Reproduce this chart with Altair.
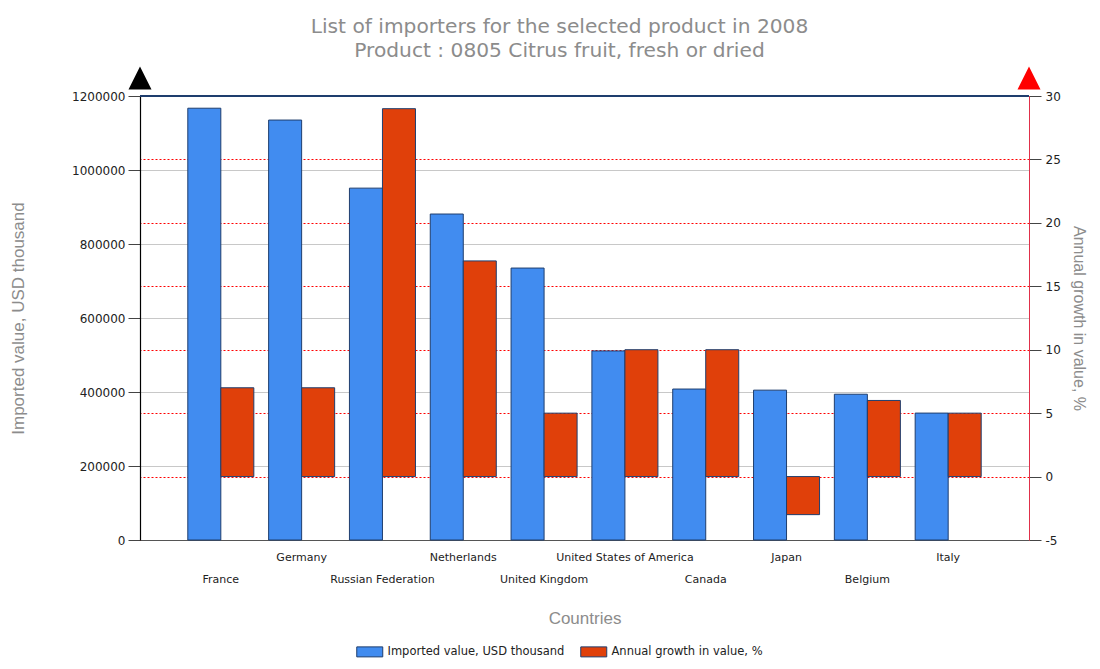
import altair as alt
import pandas as pd

countries = ["France", "Germany", "Russian Federation", "Netherlands", "United Kingdom",
             "United States of America", "Canada", "Japan", "Belgium", "Italy"]
imported = [1167000, 1135000, 951000, 881000, 735000, 511000, 408000, 405000, 394000, 343000]
growth = [7, 7, 29, 17, 5, 10, 10, -3, 6, 5]

series_names = ["Imported value, USD thousand", "Annual growth in value, %"]
series_colors = ["#418CF0", "#E0400A"]

left_ticks = [0, 200000, 400000, 600000, 800000, 1000000, 1200000]
right_ticks = [-5, 0, 5, 10, 15, 20, 25, 30]

df = pd.DataFrame({"country": countries, "imported": imported, "growth": growth})

second_row = countries[0::2]
label_expr = "indexof(" + str(second_row).replace('"', "'") + ", datum.value) >= 0 ? ['', datum.value] : datum.value"

FONT = "Liberation Sans"
LFONT = "DejaVu Sans"
TITLE_GRAY = "#8C8C8C"
STROKE = "#1F3E6E"

x_enc = alt.X(
    "country:N", sort=countries,
    scale=alt.Scale(paddingInner=0.183, paddingOuter=0.5915),
    axis=alt.Axis(title="Countries", labelExpr=label_expr, labelAngle=0, labelOverlap=False,
                  labelBound=False, ticks=False, labelPadding=11, labelLineHeight=22,
                  labelBaseline="top", labelFont=LFONT, labelFontSize=11, labelColor="#222222",
                  domainColor="#555555", domainWidth=1, titleFont=FONT, titleFontSize=17,
                  titleFontWeight="normal", titleColor=TITLE_GRAY, titlePadding=26, grid=False),
)
xoff_scale = alt.Scale(domain=series_names, paddingInner=0, paddingOuter=0)
color_enc = alt.Color(
    "series:N",
    scale=alt.Scale(domain=series_names, range=series_colors),
    legend=alt.Legend(title=None, orient="none", direction="horizontal", legendX=224, legendY=550,
                      symbolType="M-2.6,-1H2.6V1H-2.6Z", symbolSize=100,
                      symbolStrokeColor=STROKE, symbolStrokeWidth=1, symbolOpacity=1,
                      labelFont=LFONT, labelFontSize=11.5, labelColor="#222222", labelOffset=12,
                      labelLimit=400, columnPadding=13, padding=0),
)

base = alt.Chart(df)

blue = base.transform_calculate(series=f"'{series_names[0]}'").mark_bar(
    stroke=STROKE, strokeWidth=1, opacity=1
).encode(
    x=x_enc,
    xOffset=alt.XOffset("series:N", scale=xoff_scale),
    y=alt.Y("imported:Q", scale=alt.Scale(domain=[0, 1200000], nice=False),
            axis=alt.Axis(title="Imported value, USD thousand", orient="left", values=left_ticks,
                          format="d", tickSize=12, tickColor="#444444", labelPadding=3,
                          labelFont=LFONT, labelFontSize=12, labelColor="#222222",
                          domainColor="#000000", domainWidth=1.2,
                          grid=True, gridColor="#C8C8C8", gridWidth=1.2,
                          titleFont=FONT, titleFontSize=17, titleFontWeight="normal",
                          titleColor=TITLE_GRAY, titlePadding=44)),
    color=color_enc,
)

red = base.transform_calculate(series=f"'{series_names[1]}'").mark_bar(
    stroke=STROKE, strokeWidth=1, opacity=1
).encode(
    x=x_enc,
    xOffset=alt.XOffset("series:N", scale=xoff_scale),
    y=alt.Y("growth:Q", scale=alt.Scale(domain=[-5, 30], nice=False),
            axis=alt.Axis(title="Annual growth in value, %", orient="right", values=right_ticks,
                          labelExpr="toString(datum.value)",
                          tickSize=12, tickColor="#444444", labelPadding=4,
                          labelFont=LFONT, labelFontSize=12, labelColor="#222222",
                          domainColor="#E0304A", domainWidth=1,
                          grid=True, gridColor="#FF0000", gridDash=[2, 2], gridWidth=1,
                          titleFont=FONT, titleFontSize=16, titleFontWeight="normal",
                          titleColor=TITLE_GRAY, titlePadding=10)),
    y2=alt.datum(0),
    color=color_enc,
)

bars = alt.layer(blue, red).resolve_scale(y="independent")

top_line = alt.Chart(df).mark_rule(color=STROKE, strokeWidth=1.5).encode(
    x=alt.value(0), x2=alt.value(889), y=alt.value(0)
)
tri_left = alt.Chart(df).transform_filter("datum.country == 'France'").mark_point(
    shape="M0,-1L1,1L-1,1Z", filled=True, color="#000000", opacity=1, size=529
).encode(x=alt.value(0), y=alt.value(-18))
tri_right = alt.Chart(df).transform_filter("datum.country == 'France'").mark_point(
    shape="M0,-1L1,1L-1,1Z", filled=True, color="#FF0000", opacity=1, size=529
).encode(x=alt.value(889), y=alt.value(-18))

chart = alt.layer(bars, top_line, tri_left, tri_right).properties(
    width=889, height=444,
    autosize=alt.AutoSizeParams(type="none"),
    padding={"left": 132, "top": 88, "right": 63, "bottom": 121},
    title=alt.TitleParams(
        text=["List of importers for the selected product in 2008",
              "Product : 0805 Citrus fruit, fresh or dried"],
        font="DejaVu Sans", fontSize=20.2, fontWeight="normal", color=TITLE_GRAY,
        anchor="middle", dx=-25, lineHeight=24, offset=5,
    ),
).configure_view(stroke=None).configure(background="white")

chart.save("out.html", embed_options={"renderer": "svg", "actions": False})
